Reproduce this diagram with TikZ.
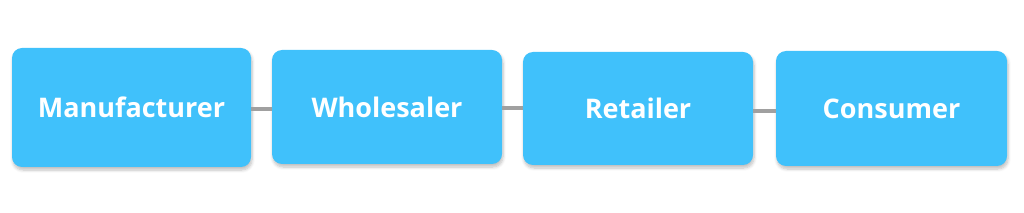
\documentclass[tikz,border=0pt]{standalone}
\usepackage{fontspec}
\setmainfont{Open Sans}
\usetikzlibrary{shadows.blur}
\definecolor{boxblue}{RGB}{64,193,251}
\definecolor{linkgray}{RGB}{160,160,160}
\tikzset{
  stagebox/.style={fill=boxblue, draw=none, rounded corners=10pt, inner sep=0pt,
    text=white, font=\bfseries\fontsize{27}{32}\selectfont,
    blur shadow={shadow xshift=1pt, shadow yshift=-3pt, shadow opacity=25, shadow blur steps=6, shadow blur radius=3pt}},
  link/.style={draw=linkgray, line width=4pt}
}
\begin{document}
\begin{tikzpicture}[x=1pt,y=-1pt]
\useasboundingbox (0,0) rectangle (1024,213);
\node[stagebox, minimum width=239pt, minimum height=119pt] (m) at (131.5,107.5) {Manufacturer};
\node[stagebox, minimum width=230pt, minimum height=114pt] (w) at (387,107) {Wholesaler};
\node[stagebox, minimum width=230pt, minimum height=113pt] (r) at (638,108.5) {Retailer};
\node[stagebox, minimum width=231pt, minimum height=115pt] (c) at (891.5,108.5) {Consumer};
\draw[link] ([yshift=-2pt]m.east) -- ([yshift=-2pt]m.east -| w.west);
\draw[link] ([yshift=-1.5pt]w.east) -- ([yshift=-1.5pt]w.east -| r.west);
\draw[link] ([yshift=-2.5pt]r.east) -- ([yshift=-2.5pt]r.east -| c.west);
\end{tikzpicture}
\end{document}
